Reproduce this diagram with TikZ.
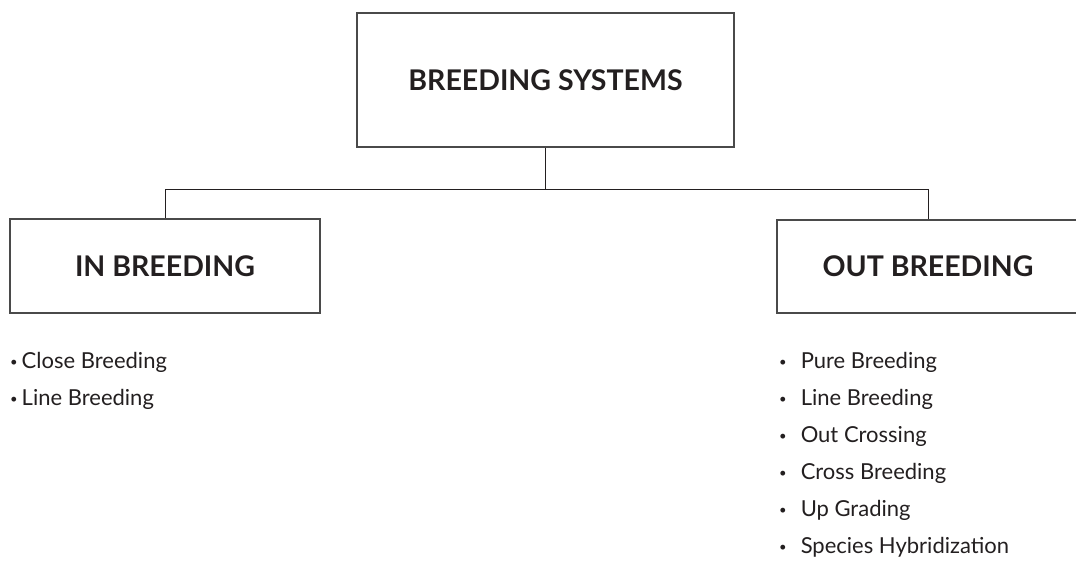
\documentclass[tikz,border=0pt]{standalone}
\usepackage{fontspec}
\setmainfont{Lato}
\usepackage{tikz}
\usetikzlibrary{positioning}

\definecolor{ink}{HTML}{231F20}
\definecolor{edge}{HTML}{4A4A4A}

\newcommand{\bul}{{\fontsize{13}{13}\selectfont\raisebox{1.5pt}{•}}}

\tikzset{
  box/.style={draw=edge, line width=1.1pt, inner sep=0pt, text=ink,
    font=\fontsize{28.5}{32}\selectfont\bfseries},
  link/.style={draw=ink, line width=1pt},
  item/.style={anchor=west, inner sep=0pt, text=ink,
    font=\fontsize{22}{26}\selectfont},
}

\begin{document}
\begin{tikzpicture}[x=1pt, y=-1pt]
        \useasboundingbox (0,0) rectangle (1076,560);
        % nodes
        \node[box, minimum width=377pt, minimum height=134pt] (sys) at (545.5, 80) {BREEDING SYSTEMS};
        \node[box, minimum width=310pt, minimum height=94pt]  (inb) at (165, 266) {IN BREEDING};
        \node[box, minimum width=302pt, minimum height=93pt]  (outb) at (928, 266.5) {OUT BREEDING};
        \coordinate (fork) at (sys.south |- 0,189);
        % lists
        \node[item] (in1) at (10, 362) {\bul\kern4pt Close Breeding};
        \node[item] (in2) at (10, 399) {\bul\kern4pt Line Breeding};
        \node[item] (out1) at (779, 362) {\bul\kern14pt Pure Breeding};
        \node[item] (out2) at (779, 399) {\bul\kern14pt Line Breeding};
        \node[item] (out3) at (779, 436) {\bul\kern14pt Out Crossing};
        \node[item] (out4) at (779, 473) {\bul\kern14pt Cross Breeding};
        \node[item] (out5) at (779, 510) {\bul\kern14pt Up Grading};
        \node[item] (out6) at (779, 547) {\bul\kern14pt Species Hybridization};
        % lines
        \draw[link, line width=1.4pt] (sys) -- (fork);
        \draw[link] (fork) -| (inb);
        \draw[link] (fork) -| (outb);
\end{tikzpicture}
\end{document}
